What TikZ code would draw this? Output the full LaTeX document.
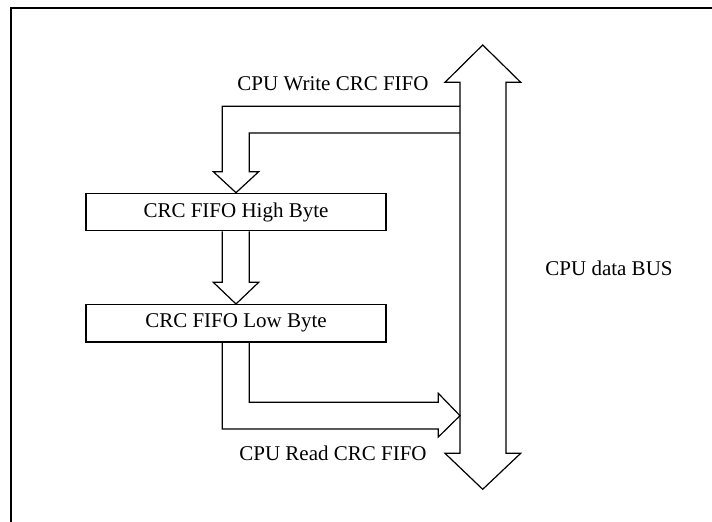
\documentclass[tikz,border=0pt]{standalone}
\usepackage{fontspec}
\setmainfont{Liberation Serif}
\begin{document}
\begin{tikzpicture}[x=0.5pt,y=-0.5pt,
  every node/.style={font=\fontsize{10.5}{12}\selectfont, inner sep=0pt},
  fifobox/.style={draw, line width=0.6pt, minimum width=150pt, minimum height=18.7pt},
  blockarrow/.style={draw, line width=0.6pt, line join=miter},
  frame/.style={draw, line width=1pt}]
\useasboundingbox (0,0) rectangle (712,522);
\draw[frame] (11,522) -- (11,8) -- (712,8);
% boxes
\node[fifobox] (hi) at (236,212) {CRC FIFO High Byte};
\node[fifobox] (lo) at (236,323.3) {CRC FIFO Low Byte};
% bus
\draw[blockarrow] (482.7,45) -- (520.7,82.3) -- (506,82.3) -- (506,453.3) -- (520.7,453.3)
  -- (482.7,489.3) -- (445,453.3) -- (460,453.3) -- (460,82.3) -- (445,82.3) -- cycle;
\coordinate (busw1) at (460,106.3);
\coordinate (busw2) at (460,133);
\coordinate (busr) at (460,415.7);
% write arrow
\draw[blockarrow] (busw1) -- (222.3,106.3) -- (222.3,171.7) -- (213.3,171.7) -- (hi.north)
  -- (258.7,171.7) -- (249.3,171.7) -- (249.3,133) -- (busw2);
% middle arrow
\draw[blockarrow] (hi.south -| 222.3,0) -- (222.3,282.3) -- (213.3,282.3) -- (lo.north)
  -- (258.7,282.3) -- (249.3,282.3) -- (hi.south -| 249.3,0);
% read arrow
\draw[blockarrow] (lo.south -| 222.3,0) -- (222.3,429) -- (438.3,429) -- (438.3,437) -- (busr)
  -- (438.3,393.3) -- (438.3,402.3) -- (249.3,402.3) -- (lo.south -| 249.3,0);
% labels
\node (wl) at (333,84) {CPU Write CRC FIFO};
\node (rl) at (333,453) {CPU Read CRC FIFO};
\node (bl) at (609,268) {CPU data BUS};
\end{tikzpicture}
\end{document}
